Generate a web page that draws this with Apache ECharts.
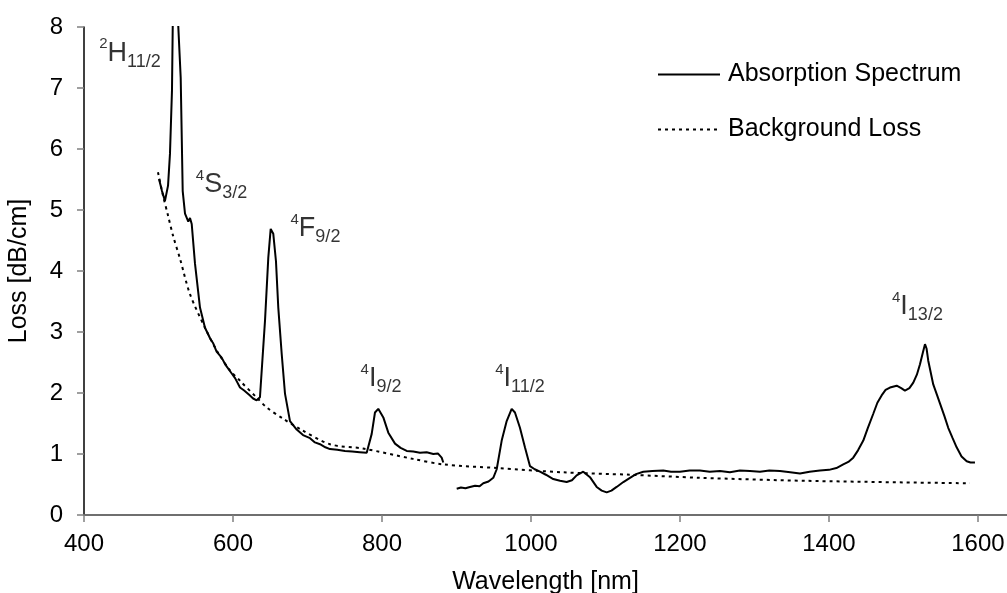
<!DOCTYPE html>
<html>
<head>
<meta charset="utf-8">
<script src="https://cdn.jsdelivr.net/npm/echarts@6/dist/echarts.min.js"></script>
<style>
  html, body { margin: 0; padding: 0; background: #ffffff; }
  #chart { width: 1007px; height: 593px; }
</style>
</head>
<body>
<div id="chart"></div>
<script>
// Measured absorption spectrum (wavelength in nm, loss in dB/cm).
// A null entry marks the gap between the two detector ranges.
const absWavelength = [
  500.7, 504.7, 508.7, 512.8, 515.4, 518.1, 519.1, 520.5, 523.0, 525.5, 526.6, 529.8,
  532.5, 535.6, 538.0, 540.0, 542.3, 544.6, 549.0, 555.7, 562.4, 566.0, 569.5, 573.6,
  578.0, 584.8, 590.0, 598.3, 603.0, 609.4, 615.0, 622.8, 627.0, 631.8, 636.2, 643.0,
  647.4, 650.6, 654.1, 657.7, 660.8, 665.4, 669.8, 676.5, 685.5, 694.0, 703.4, 710.0,
  716.8, 724.0, 730.2, 740.0, 750.3, 760.0, 770.0, 779.5, 786.2, 790.6, 795.0, 801.8,
  808.5, 817.5, 825.0, 833.2, 842.0, 851.0, 860.0, 868.9, 875.0, 880.1, 882.3, 891.0,
  900.3, 906.0, 912.0, 918.1, 925.0, 931.0, 936.0, 943.0, 949.4, 954.0, 960.7, 967.4,
  974.1, 978.5, 985.2, 991.9, 998.7, 1005.0, 1012.1, 1020.0, 1029.9, 1039.0, 1047.9, 1055.0,
  1061.3, 1070.2, 1079.2, 1088.2, 1095.0, 1101.6, 1108.0, 1115.0, 1124.0, 1132.9, 1141.0, 1150.8,
  1163.0, 1177.6, 1188.0, 1200.0, 1213.0, 1226.8, 1240.0, 1253.7, 1267.0, 1280.5, 1294.0, 1307.4,
  1320.0, 1334.3, 1348.0, 1361.1, 1374.0, 1387.9, 1400.0, 1410.0, 1419.2, 1426.0, 1432.6, 1439.0,
  1446.1, 1452.0, 1459.5, 1465.0, 1470.7, 1476.0, 1481.9, 1490.9, 1497.0, 1502.0, 1508.0, 1513.2,
  1518.0, 1522.2, 1526.0, 1528.9, 1531.0, 1533.3, 1540.0, 1545.0, 1549.0, 1555.0, 1560.1, 1566.0,
  1571.4, 1578.0, 1584.9, 1590.0, 1596.0
];
const absLoss = [
  5.51, 5.31, 5.15, 5.40, 5.92, 6.96, 8.0, 9.5, 11.0, 9.2, 8.0, 7.17,
  5.31, 4.94, 4.91, 4.81, 4.87, 4.77, 4.12, 3.40, 3.07, 2.98, 2.89, 2.81,
  2.68, 2.58, 2.46, 2.32, 2.24, 2.09, 2.04, 1.96, 1.91, 1.88, 1.93, 3.19,
  4.22, 4.69, 4.61, 4.16, 3.40, 2.64, 1.99, 1.54, 1.40, 1.31, 1.26, 1.19,
  1.16, 1.11, 1.08, 1.07, 1.05, 1.04, 1.03, 1.02, 1.33, 1.68, 1.74, 1.60,
  1.35, 1.17, 1.10, 1.05, 1.04, 1.02, 1.03, 1.00, 1.01, 0.94, 0.86, null,
  0.43, 0.45, 0.44, 0.46, 0.48, 0.47, 0.52, 0.55, 0.61, 0.75, 1.22, 1.54,
  1.74, 1.68, 1.43, 1.11, 0.80, 0.75, 0.71, 0.66, 0.59, 0.56, 0.54, 0.57,
  0.65, 0.71, 0.62, 0.46, 0.40, 0.37, 0.40, 0.46, 0.54, 0.61, 0.67, 0.71,
  0.72, 0.73, 0.71, 0.71, 0.73, 0.73, 0.71, 0.72, 0.70, 0.73, 0.72, 0.71,
  0.73, 0.72, 0.70, 0.68, 0.71, 0.73, 0.74, 0.77, 0.83, 0.87, 0.94, 1.06,
  1.22, 1.42, 1.66, 1.84, 1.96, 2.05, 2.09, 2.12, 2.08, 2.04, 2.08, 2.17,
  2.30, 2.47, 2.66, 2.80, 2.73, 2.53, 2.14, 1.97, 1.83, 1.62, 1.43, 1.26,
  1.11, 0.96, 0.88, 0.86, 0.86
];

// Fitted background (scattering) loss.
const bgWavelength = [
  499.3, 506.0, 512.8, 519.5, 528.9, 542.3, 562.4, 578.5, 596.0, 609.4, 632.2, 645.6,
  667.1, 689.9, 730.2, 774.5, 841.6, 881.9, 954.4, 1043.0, 1132.9, 1226.8, 1370.5, 1589.3
];
const bgLoss = [
  5.62, 5.24, 4.91, 4.58, 4.20, 3.62, 3.07, 2.69, 2.37, 2.20, 1.92, 1.76,
  1.58, 1.41, 1.16, 1.09, 0.92, 0.83, 0.77, 0.70, 0.66, 0.61, 0.56, 0.52
];

// Er3+ transitions: term letter, left superscript, subscript, label anchor (nm, dB/cm).
const termLetter = ['H', 'S', 'F', 'I', 'I', 'I'];
const termSup    = ['2', '4', '4', '4', '4', '4'];
const termSub    = ['11/2', '3/2', '9/2', '9/2', '11/2', '13/2'];
const termNm     = [461.7, 584.6, 710.7, 798.7, 985.2, 1518.8];
const termLoss   = [7.56, 5.41, 4.69, 2.23, 2.23, 3.41];

const FONT = "'Liberation Sans', Arial, sans-serif";

const absData = absWavelength.map((w, i) => [w, absLoss[i] === null ? '-' : absLoss[i]]);
const bgData = bgWavelength.map((w, i) => [w, bgLoss[i]]);
const termData = termNm.map((w, i) => ({
  value: [w, termLoss[i]],
  label: { formatter: '{sup|' + termSup[i] + '}{main|' + termLetter[i] + '}{sub|' + termSub[i] + '}' }
}));

const chart = echarts.init(document.getElementById('chart'), null, { renderer: 'canvas' });

chart.setOption({
  animation: false,
  backgroundColor: '#ffffff',
  // Fixed plot rectangle; the axis title is allowed to touch the lower edge.
  grid: { left: 84, right: 0, top: 27, bottom: 78, containLabel: false, outerBoundsMode: 'none' },
  legend: {
    data: ['Absorption Spectrum', 'Background Loss'],
    orient: 'vertical',
    left: 652,
    top: 57,
    itemWidth: 62,
    itemHeight: 30,
    itemGap: 30,
    selectedMode: false,
    itemStyle: { color: 'rgba(0,0,0,0)', borderWidth: 0, opacity: 0 },
    textStyle: { fontFamily: FONT, fontSize: 25, color: '#000', padding: [0, 0, 0, 3] }
  },
  xAxis: [{
    type: 'value',
    min: 400,
    max: 1639,
    interval: 200,
    name: 'Wavelength [nm]',
    nameLocation: 'middle',
    nameGap: 55,
    nameTextStyle: { fontFamily: FONT, fontSize: 25, color: '#000' },
    axisLine: { show: true, onZero: false, lineStyle: { color: '#000', width: 1.5 } },
    axisTick: { show: true, inside: false, length: 7, lineStyle: { color: '#808080', width: 1.5 } },
    axisLabel: {
      fontFamily: FONT, fontSize: 24, color: '#000', margin: 17, showMaxLabel: false,
      formatter: (v) => String(v)
    },
    splitLine: { show: false }
  }, {
    type: 'value',
    position: 'top',
    min: 400,
    max: 1639,
    axisLine: { show: true, lineStyle: { color: '#808080', width: 1.5 } },
    axisTick: { show: false },
    axisLabel: { show: false },
    splitLine: { show: false }
  }],
  yAxis: {
    type: 'value',
    min: 0,
    max: 8,
    interval: 1,
    name: 'Loss [dB/cm]',
    nameLocation: 'middle',
    nameGap: 52,
    nameTextStyle: { fontFamily: FONT, fontSize: 25, color: '#000' },
    axisLine: { show: true, lineStyle: { color: '#000', width: 1.5 } },
    axisTick: { show: true, inside: false, length: 7, lineStyle: { color: '#808080', width: 1.5 } },
    axisLabel: { fontFamily: FONT, fontSize: 24, color: '#000', margin: 21 },
    splitLine: { show: false }
  },
  series: [{
    name: 'Absorption Spectrum',
    type: 'line',
    data: absData,
    symbol: 'none',
    connectNulls: false,
    clip: true,
    lineStyle: { color: '#000', width: 2 },
    itemStyle: { color: '#000' },
    z: 3
  }, {
    name: 'Background Loss',
    type: 'line',
    data: bgData,
    symbol: 'none',
    smooth: 0.3,
    clip: true,
    lineStyle: { color: '#000', width: 2, type: [3, 4] },
    itemStyle: { color: '#000' },
    z: 2
  }, {
    name: 'terms',
    type: 'scatter',
    data: termData,
    symbolSize: 1,
    itemStyle: { color: 'rgba(0,0,0,0)' },
    silent: true,
    clip: false,
    label: {
      show: true,
      position: 'inside',
      color: '#000',
      fontFamily: FONT,
      rich: {
        sup: { fontFamily: FONT, fontSize: 15, lineHeight: 20, verticalAlign: 'top', color: '#000' },
        main: { fontFamily: FONT, fontSize: 27, lineHeight: 34, verticalAlign: 'middle', color: '#000' },
        sub: { fontFamily: FONT, fontSize: 18, lineHeight: 22, verticalAlign: 'bottom', color: '#000' }
      }
    },
    z: 4
  }]
});
</script>
</body>
</html>
